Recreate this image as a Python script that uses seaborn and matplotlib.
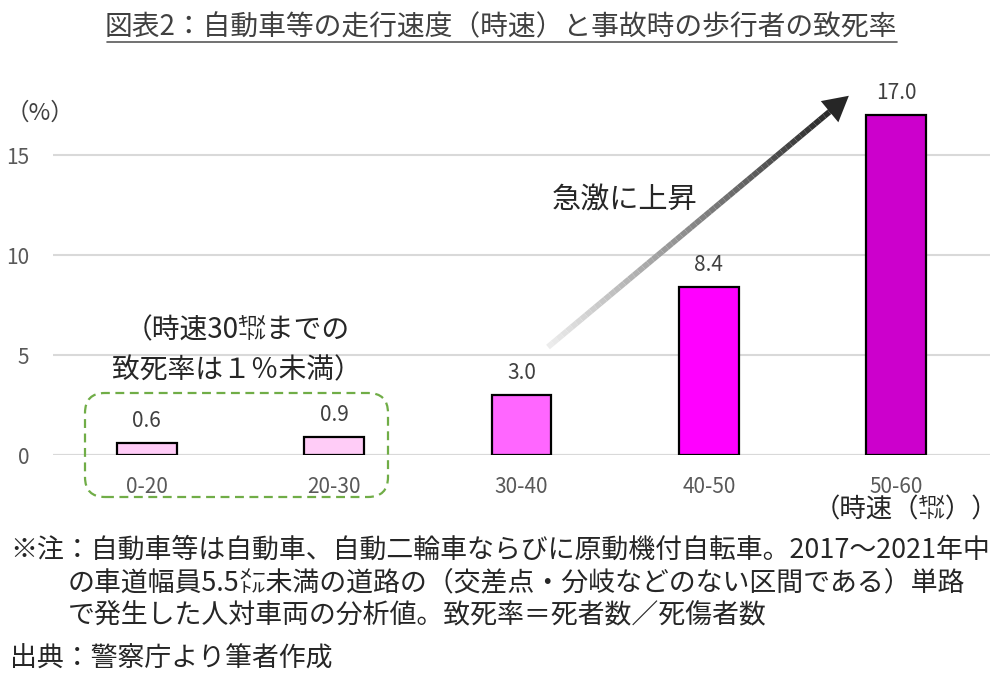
import numpy as np
import pandas as pd
import matplotlib
matplotlib.use("Agg")
import matplotlib.pyplot as plt
import seaborn as sns
from matplotlib.collections import LineCollection
from matplotlib.patches import FancyBboxPatch, FancyArrowPatch
from matplotlib.lines import Line2D
from matplotlib.colors import to_rgb

# data
speed_bins = ["0-20", "20-30", "30-40", "40-50", "50-60"]
fatality_rate = [0.6, 0.9, 3.0, 8.4, 17.0]
bar_colors = ["#ffccf7", "#ffccf7", "#ff66ff", "#ff00ff", "#cc00cc"]
y_ticks = [0, 5, 10, 15]

title = "図表2：自動車等の走行速度（時速）と事故時の歩行者の致死率"
notes = [
    "※注：自動車等は自動車、自動二輪車ならびに原動機付自転車。2017～2021年中",
    "の車道幅員5.5㍍未満の道路の（交差点・分岐などのない区間である）単路",
    "で発生した人対車両の分析値。致死率＝死者数／死傷者数",
    "出典：警察庁より筆者作成",
]

sns.set_theme(style="white")
plt.rcParams["font.family"] = ["Noto Sans CJK JP", "DejaVu Sans"]

W, H = 1000, 695
fig = plt.figure(figsize=(W / 100, H / 100), dpi=100)
ax = fig.add_axes([53 / W, 1 - 455 / H, (990 - 53) / W, 380 / H])

df = pd.DataFrame({"speed": speed_bins, "rate": fatality_rate})
sns.barplot(data=df, x="speed", y="rate", hue="speed", palette=bar_colors,
            legend=False, width=0.32, edgecolor="black", linewidth=1.6,
            saturation=1, ax=ax)

for cont in ax.containers:
    ax.bar_label(cont, fmt="%.1f", padding=8, fontsize=15, color="#404040")

ax.set_xlim(-0.5, len(speed_bins) - 0.5)
ax.set_ylim(0, 19)
ax.set_yticks(y_ticks)
ax.yaxis.grid(True, color="#d9d9d9", linewidth=1.5)
ax.set_axisbelow(True)
for s in ["left", "right", "top", "bottom"]:
    ax.spines[s].set_visible(False)
ax.axhline(0, color="#d9d9d9", linewidth=1.5, zorder=0)
ax.tick_params(axis="both", length=0, labelsize=15, labelcolor="#595959")
ax.tick_params(axis="x", pad=15)
ax.tick_params(axis="y", pad=17)
ax.set_xlabel("")
ax.set_ylabel("")


# helpers in pixel coordinates (from top-left)
def P(x, y):
    return (x / 100, (H - y) / 100)


tr = fig.dpi_scale_trans

# title with underline
fig.text(*P(501, 27), title, transform=tr, ha="center", va="center",
         fontsize=20, color="#404040")
fig.add_artist(Line2D([107 / 100, 897 / 100], [(H - 42) / 100] * 2,
                      transform=tr, color="#595959", linewidth=1.2))

fig.text(*P(40, 113), "（%）", transform=tr, ha="center", va="center",
         fontsize=17, color="#404040")

# gradient arrow
x0, y0 = P(548, 347)
x1, y1 = P(834, 108)
n = 60
xs = np.linspace(x0, x1, n + 1)
ys = np.linspace(y0, y1, n + 1)
segs = [[(xs[i], ys[i]), (xs[i + 1], ys[i + 1])] for i in range(n)]
c_start, c_end = np.array(to_rgb("#ececec")), np.array(to_rgb("#262626"))
cols = [c_start + (c_end - c_start) * (i / (n - 1)) for i in range(n)]
lc = LineCollection(segs, colors=cols, linewidths=4.2, transform=tr)
fig.add_artist(lc)
fig.add_artist(FancyArrowPatch(P(828, 113), P(851, 94), transform=tr,
                               arrowstyle="-|>,head_length=1.0,head_width=0.55",
                               mutation_scale=18, color="#262626", linewidth=0))

fig.text(*P(625, 200), "急激に上昇", transform=tr, ha="center", va="center",
         fontsize=21, color="#262626")

# low-speed note and dashed box
fig.text(*P(237, 330), "（時速30㌖までの", transform=tr, ha="center",
         va="center", fontsize=20, color="#262626")
fig.text(*P(237, 370), "致死率は１％未満）", transform=tr, ha="center",
         va="center", fontsize=20, color="#262626")
bx0, by0 = P(85, 497)
box = FancyBboxPatch((bx0, by0), (388 - 85) / 100, (497 - 393) / 100,
                     boxstyle="round,pad=0,rounding_size=0.2", transform=tr,
                     fill=False, edgecolor="#70ad47", linewidth=1.6,
                     linestyle=(0, (4, 2.5)))
fig.add_artist(box)

fig.text(*P(998, 510), "（時速（㌖））", transform=tr, ha="right",
         va="center", fontsize=19, color="#262626")

# notes
note_pos = [(10, 550), (68, 583), (68, 616), (10, 659)]
for (nx, ny), line in zip(note_pos, notes):
    fig.text(*P(nx, ny), line, transform=tr, ha="left", va="center",
             fontsize=19.4, color="#262626")

fig.savefig("out.png", dpi=100)
